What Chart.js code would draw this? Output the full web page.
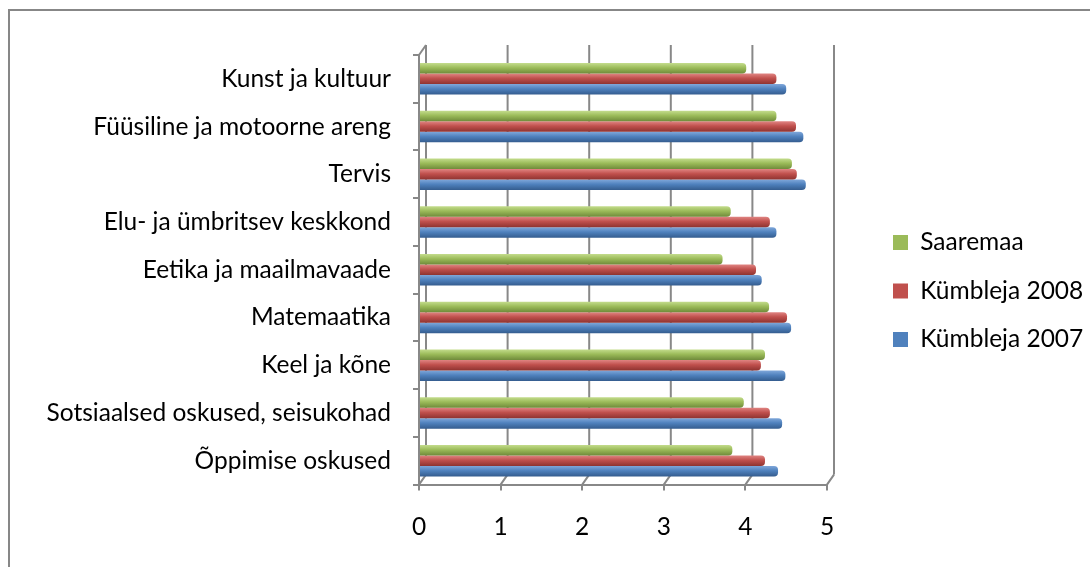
<!DOCTYPE html>
<html>
<head>
<meta charset="utf-8">
<script src="https://cdn.jsdelivr.net/npm/chart.js@4.4.1/dist/chart.umd.min.js"></script>
<style>
  html, body { margin: 0; padding: 0; background: #fff; }
  #wrap { position: relative; width: 1090px; height: 567px; overflow: hidden; }
  #frame { position: absolute; left: 8px; top: 9px; width: 1100px; height: 600px; border: 2.5px solid #878787; box-sizing: border-box; }
  canvas { position: absolute; left: 0; top: 0; }
</style>
</head>
<body>
<div id="wrap">
  <div id="frame"></div>
  <canvas id="c" width="1090" height="567"></canvas>
</div>
<script>
const categories = [
  "Kunst ja kultuur",
  "Füüsiline ja motoorne areng",
  "Tervis",
  "Elu- ja ümbritsev keskkond",
  "Eetika ja maailmavaade",
  "Matemaatika",
  "Keel ja kõne",
  "Sotsiaalsed oskused, seisukohad",
  "Õppimise oskused"
];
const seriesNames = ["Saaremaa", "Kümbleja 2008", "Kümbleja 2007"];
const saaremaa    = [4.01, 4.38, 4.57, 3.82, 3.72, 4.29, 4.24, 3.98, 3.84];
const kymbleja2008 = [4.38, 4.62, 4.63, 4.30, 4.13, 4.51, 4.19, 4.30, 4.24];
const kymbleja2007 = [4.50, 4.71, 4.74, 4.38, 4.20, 4.56, 4.49, 4.45, 4.40];
const xTicks = [0, 1, 2, 3, 4, 5];

const colors = ["#9BBB59", "#C0504D", "#4F81BD"];
const light = ["#c3dc8c", "#e08482", "#7fa7da"];
const dark = ["#6f8a3a", "#8e3330", "#345c8e"];

const FONT = "Lato, 'Open Sans', sans-serif";
const mctx = document.createElement('canvas').getContext('2d');
mctx.font = "100px " + FONT;
const wLong = mctx.measureText(categories[7]).width;
const fs = Math.round(100 * 344 / wLong * 10) / 10;

const CAT_PCT = 0.66;
function barGradient(ctx) {
  const chart = ctx.chart;
  const ys = chart.scales.y;
  const i = ctx.datasetIndex;
  if (!ys || ctx.dataIndex === undefined) return colors[i];
  const center = ys.getPixelForValue(ctx.dataIndex);
  const band = Math.abs(ys.getPixelForValue(1) - ys.getPixelForValue(0));
  const h = band * CAT_PCT / 3;
  const yc = center + (i - 1) * h;
  const g = chart.ctx.createLinearGradient(0, yc - h / 2, 0, yc + h / 2);
  g.addColorStop(0, light[i]);
  g.addColorStop(0.45, colors[i]);
  g.addColorStop(1, dark[i]);
  return g;
}

const DX = 7, DY = -10;
const GRID = "#888888";
const depthPlugin = {
  id: 'depth',
  beforeDatasetsDraw(chart) {
    const { ctx, chartArea: a, scales: { x } } = chart;
    ctx.save();
    ctx.strokeStyle = GRID;
    ctx.lineWidth = 2;
    xTicks.forEach(v => {
      const px = x.getPixelForValue(v);
      ctx.beginPath();
      ctx.moveTo(px + DX, a.top + DY);
      ctx.lineTo(px + DX, a.bottom + DY);
      ctx.moveTo(px, a.bottom);
      ctx.lineTo(px + DX, a.bottom + DY);
      ctx.stroke();
    });
    ctx.beginPath();
    ctx.moveTo(a.left, a.top);
    ctx.lineTo(a.left + DX, a.top + DY);
    ctx.stroke();
    ctx.restore();
  }
};

new Chart(document.getElementById('c'), {
  type: 'bar',
  data: {
    labels: categories,
    datasets: [
      { label: seriesNames[0], data: saaremaa },
      { label: seriesNames[1], data: kymbleja2008 },
      { label: seriesNames[2], data: kymbleja2007 }
    ].map((d, i) => Object.assign(d, {
      backgroundColor: barGradient,
      borderColor: dark[i],
      borderWidth: 0,
      borderRadius: { topRight: 4, bottomRight: 4 },
      borderSkipped: 'start',
      categoryPercentage: CAT_PCT,
      barPercentage: 1.0
    }))
  },
  options: {
    indexAxis: 'y',
    responsive: false,
    animation: false,
    devicePixelRatio: 1,
    layout: { padding: { left: 47, top: 18, right: 0, bottom: 3 } },
    scales: {
      x: {
        min: 0, max: 5,
        afterBuildTicks: s => { s.ticks = xTicks.map(v => ({ value: v })); },
        grid: { drawOnChartArea: false, drawTicks: true, tickLength: 6, color: GRID, lineWidth: 2 },
        border: { display: true, color: GRID, width: 2 },
        ticks: { color: "#000", font: { family: FONT, size: fs }, padding: 22 }
      },
      y: {
        grid: { drawOnChartArea: false, drawTicks: true, tickLength: 6, color: GRID, lineWidth: 2, offset: true },
        border: { display: true, color: GRID, width: 2 },
        ticks: { color: "#000", font: { family: FONT, size: fs }, padding: 22 },
        afterFit: s => { s.width = 372; }
      },
      padR: {
        type: 'linear', position: 'right', display: true,
        grid: { display: false }, ticks: { display: false }, border: { display: false },
        afterFit: s => { s.width = 42; }
      },
      padT: {
        type: 'linear', position: 'top', display: true, axis: 'x',
        grid: { display: false }, ticks: { display: false }, border: { display: false },
        afterFit: s => { s.height = 37; }
      }
    },
    plugins: {
      legend: {
        position: 'right',
        maxWidth: 221,
        labels: {
          color: "#000",
          font: { family: FONT, size: fs },
          boxWidth: 15, boxHeight: 15,
          padding: 24,
          generateLabels: chart => chart.data.datasets.map((d, i) => ({
            text: d.label, fillStyle: colors[i], strokeStyle: colors[i], lineWidth: 0,
            datasetIndex: i, hidden: false
          }))
        }
      },
      tooltip: { enabled: false }
    }
  },
  plugins: [depthPlugin]
});
</script>
</body>
</html>
